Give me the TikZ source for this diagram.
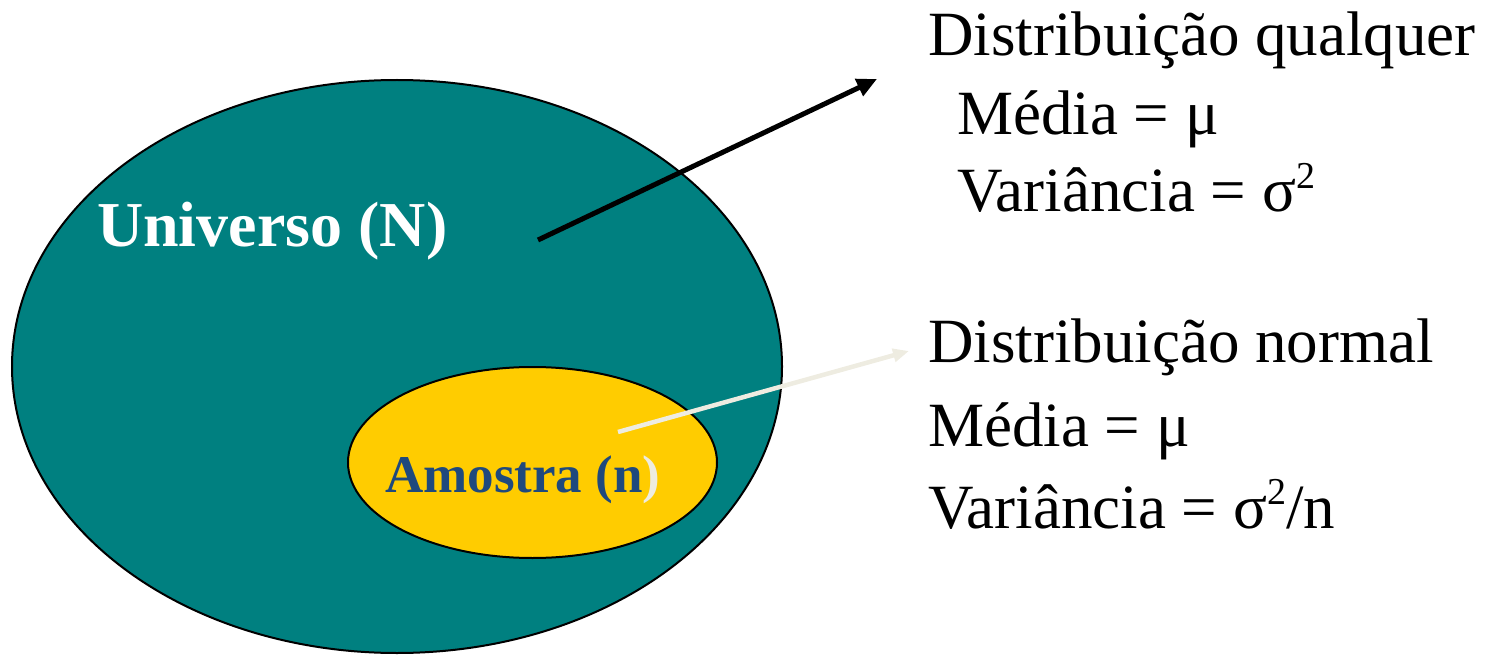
\documentclass[tikz,border=0pt]{standalone}
\usepackage{fontspec}
\setmainfont{Liberation Serif}
\usetikzlibrary{positioning, arrows.meta, shapes.geometric}
\definecolor{univteal}{HTML}{008080}
\definecolor{amoyellow}{HTML}{FFCC00}
\definecolor{amoblue}{HTML}{1F497D}
\definecolor{paleline}{HTML}{EEECE1}
\newcommand{\sqtwo}{\raisebox{0.38em}{\fontsize{38}{38}\selectfont 2}}

\begin{document}
\begin{tikzpicture}[x=1pt,y=-1pt,
  set/.style={draw,ellipse,line width=2pt,inner sep=0pt},
  lbl/.style={anchor=base west,inner sep=0pt,font=\fontsize{63}{70}\selectfont},
  big/.style={anchor=base west,inner sep=0pt,font=\fontsize{64}{70}\selectfont\bfseries,text=white},
  small/.style={anchor=base west,inner sep=0pt,font=\fontsize{53}{60}\selectfont\bfseries,text=amoblue}]
  \useasboundingbox (0,0) rectangle (1499,655);
  % the two sets
  \node[set,fill=univteal,minimum width=770pt,minimum height=573pt](univ) at (397,366.5){};
  \node[set,fill=amoyellow,minimum width=369pt,minimum height=191pt](amos) at (532.5,462.5){};
  \node[big](univtxt) at (97,247){Universo (N)};
  \node[small](amostxt) at (385,492){Amostra (n\textcolor{paleline}{)}};
  % right-hand texts
  \node[lbl](qual) at (928,56){Distribuição qualquer};
  \node[lbl](qmed) at (957,135){Média = μ};
  \node[lbl](qvar) at (957,212){Variância = σ\sqtwo};
  \node[lbl](norm) at (928,362){Distribuição normal};
  \node[lbl](nmed) at (928,446){Média = μ};
  \node[lbl](nvar) at (928,528){Variância = σ\sqtwo/n};
  % arrows
  \coordinate (us) at (538,240);
  \coordinate (ue) at (877,79);
  \coordinate (as) at (618,432);
  \coordinate (ae) at (909,351);
  \draw[line width=5pt,-{Triangle[length=20pt,width=18pt]}](us)--(ue);
  \draw[paleline,line width=4.5pt,-{Triangle[length=16pt,width=13pt]}](as)--(ae);
\end{tikzpicture}
\end{document}
